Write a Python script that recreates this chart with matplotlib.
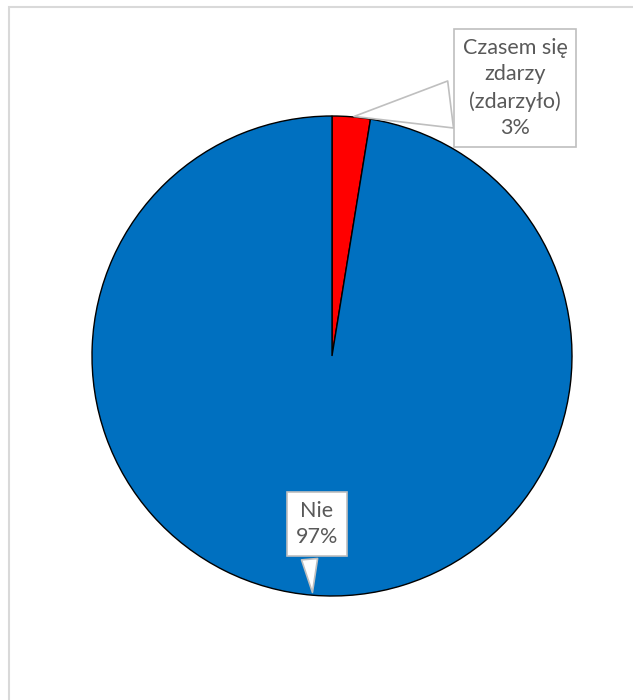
import numpy as np
import matplotlib.pyplot as plt
from matplotlib.patches import Rectangle

# dane
etykiety = ['Czasem się\nzdarzy\n(zdarzyło)', 'Nie']
wartosci = [1, 38]
kolory = ['#FF0000', '#0070C0']
# pozycje etykiet (piksele figury, od dołu)
pozycje_etykiet = [(515, 612), (317, 176)]
relpos_etykiet = [(0.0, 0.35), (0.3, 0.0)]
szer_klina = [2.2, 0.75]

fig = plt.figure(figsize=(6.33, 7.0), dpi=100)
plt.rcParams['font.family'] = ['Lato', 'DejaVu Sans']

# ramka wykresu
fig.patches.append(Rectangle((9 / 633, -0.1), 1.2, (700 - 7) / 700 + 0.1,
                             transform=fig.transFigure, fill=False,
                             ec='#d9d9d9', lw=1.5, zorder=0))

ax = fig.add_axes([92 / 633, 104 / 700, 480 / 633, 480 / 700])
wedges, _ = ax.pie(wartosci, colors=kolory, startangle=90, counterclock=False,
                   wedgeprops=dict(edgecolor='black', linewidth=1.0))
ax.set_xlim(-1, 1)
ax.set_ylim(-1, 1)
ax.set_aspect('equal')
ax.axis('off')

suma = sum(wartosci)
for i, w in enumerate(wedges):
    kat = np.deg2rad((w.theta1 + w.theta2) / 2)
    x, y = np.cos(kat), np.sin(kat)
    proc = round(100 * wartosci[i] / suma)
    ax.annotate(f'{etykiety[i]}\n{proc}%', xy=(x, y), xycoords='data',
                xytext=pozycje_etykiet[i], textcoords='figure pixels',
                ha='center', va='center', fontsize=15.5, color='#595959',
                linespacing=1.4, annotation_clip=False,
                bbox=dict(boxstyle='square,pad=0.4', fc='white', ec='#bfbfbf', lw=1.2),
                arrowprops=dict(arrowstyle=f'wedge,tail_width={szer_klina[i]},shrink_factor=0.5',
                                fc='white', ec='#bfbfbf', lw=1.2,
                                relpos=relpos_etykiet[i]))

fig.savefig('out.png', dpi=100)
